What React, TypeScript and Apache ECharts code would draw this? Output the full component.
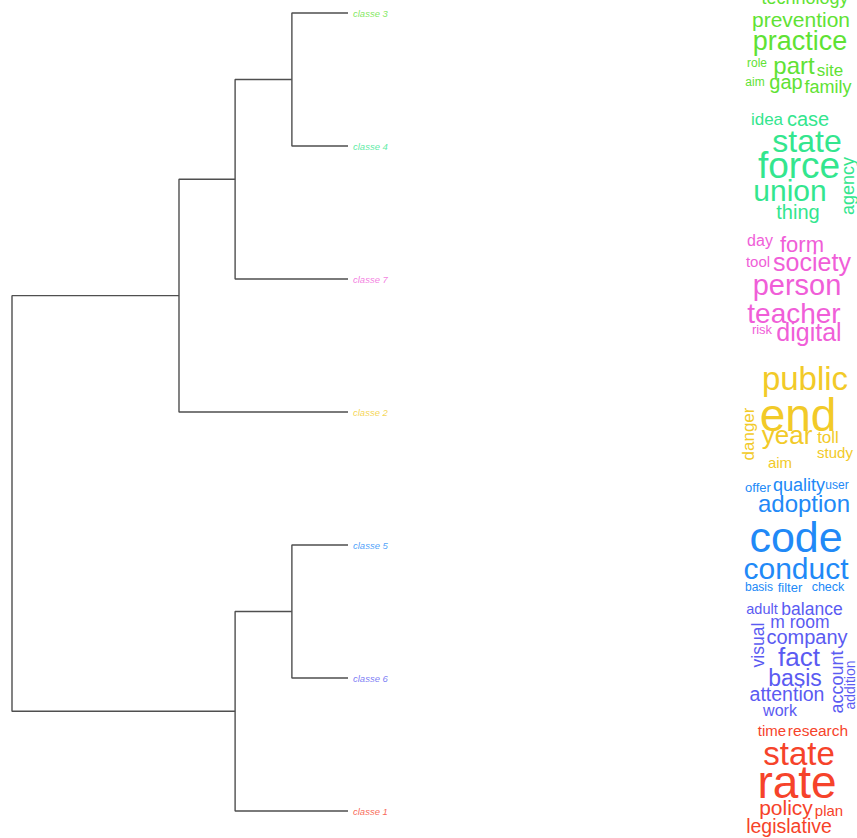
import React, { useEffect, useRef } from 'react';
import * as echarts from 'echarts';

const W = 857;
const H = 838;

// ---- dendrogram data ----
const leaves = ['classe 3', 'classe 4', 'classe 7', 'classe 2', 'classe 5', 'classe 6', 'classe 1'];
const leafColors = ['#5fe234', '#33e68e', '#f05ed8', '#f2ca28', '#2189f7', '#5b5bf2', '#f6432a'];
const mergeA = ['classe 3', 'classe 5', 'm1', 'm2', 'm3', 'm5'];
const mergeB = ['classe 4', 'classe 6', 'classe 7', 'classe 1', 'classe 2', 'm4'];
const mergeHeight = [0.167, 0.167, 0.336, 0.336, 0.503, 1.0];

// ---- word cloud data (word, weight) ----
const words3 = ['technology', 'prevention', 'practice', 'role', 'part', 'site', 'aim', 'gap', 'family'];
const weight3 = [18, 21, 27, 12, 24, 17, 12, 20, 18];
const words4 = ['idea', 'case', 'state', 'force', 'agency', 'union', 'thing'];
const weight4 = [17, 20, 32, 37, 18, 30, 20];
const words7 = ['day', 'form', 'tool', 'society', 'person', 'teacher', 'risk', 'digital'];
const weight7 = [16, 22, 15, 25, 29, 28, 13, 25];
const words2 = ['public', 'end', 'danger', 'year', 'toll', 'study', 'aim'];
const weight2 = [33, 46, 17, 26, 17, 15, 15];
const words5 = ['offer', 'quality', 'user', 'adoption', 'code', 'conduct', 'basis', 'filter', 'check'];
const weight5 = [13, 18, 12, 24, 43, 30, 12, 13, 12.5];
const words6 = ['adult', 'balance', 'm room', 'visual', 'company', 'fact', 'basis', 'attention', 'work', 'account', 'addition'];
const weight6 = [14.5, 17.5, 17.5, 17.5, 20, 26, 23, 19.5, 16, 18, 14];
const words1 = ['time', 'research', 'state', 'rate', 'policy', 'plan', 'legislative'];
const weight1 = [15, 15.5, 33, 46, 21, 15, 19.5];

// ---- word cloud layout (x, y, rotated) ----
const layout3 = [[805, -2, 0], [801, 19, 0], [800, 41, 0], [757, 63, 0], [794, 65, 0], [830, 70, 0], [755, 82, 0], [786, 82, 0], [828, 87, 0]];
const layout4 = [[767, 119, 0], [808, 119, 0], [807, 141, 0], [799, 165, 0], [848, 186, 1], [790, 190, 0], [798, 212, 0]];
const layout7 = [[760, 240, 0], [802, 244, 0], [758, 261, 0], [812, 262, 0], [797, 285, 0], [794, 313, 0], [762, 329, 0], [809, 332, 0]];
const layout2 = [[805, 378, 0], [798, 415, 0], [748, 434, 1], [787, 435, 0], [828, 437, 0], [835, 452, 0], [780, 462, 0]];
const layout5 = [[758, 487, 0], [799, 485, 0], [837, 485, 0], [804, 503, 0], [796, 537, 0], [796, 568, 0], [759, 587, 0], [790, 587, 0], [828, 587, 0]];
const layout6 = [[762, 609, 0], [812, 609, 0], [800, 622, 0], [758, 645, 1], [807, 637, 0], [799, 657, 0], [795, 678, 0], [787, 694, 0], [780, 710, 0], [837, 682, 1], [850, 685, 1]];
const layout1 = [[772, 730, 0], [818, 730, 0], [799, 753, 0], [797, 782, 0], [786, 807, 0], [829, 810, 0], [789, 826, 0]];

const clouds = [
  { cls: 'classe 3', words: words3, weights: weight3, layout: layout3 },
  { cls: 'classe 4', words: words4, weights: weight4, layout: layout4 },
  { cls: 'classe 7', words: words7, weights: weight7, layout: layout7 },
  { cls: 'classe 2', words: words2, weights: weight2, layout: layout2 },
  { cls: 'classe 5', words: words5, weights: weight5, layout: layout5 },
  { cls: 'classe 6', words: words6, weights: weight6, layout: layout6 },
  { cls: 'classe 1', words: words1, weights: weight1, layout: layout1 },
];

const FONT = '"Liberation Sans", Arial, Helvetica, sans-serif';

export default function App() {
  const ref = useRef<HTMLDivElement>(null);
  useEffect(() => {
    if (!ref.current) return;
    const chart = echarts.init(ref.current, null, { renderer: 'svg' });

    // compute dendrogram node positions
    const pos: Record<string, { h: number; y: number }> = {};
    leaves.forEach((l, i) => (pos[l] = { h: 0, y: i }));
    const mergeSeries: any[] = [];
    mergeA.forEach((a, i) => {
      const b = mergeB[i];
      const h = mergeHeight[i];
      const pa = pos[a];
      const pb = pos[b];
      pos['m' + (i + 1)] = { h, y: (pa.y + pb.y) / 2 };
      mergeSeries.push({
        type: 'line',
        xAxisIndex: 0,
        yAxisIndex: 0,
        symbol: 'none',
        clip: false,
        silent: true,
        lineStyle: { color: '#4f4f4f', width: 1.4 },
        data: [
          [pa.h, pa.y],
          [h, pa.y],
          [h, pb.y],
          [pb.h, pb.y],
        ],
      });
    });

    const cloudItems: any[] = [];
    clouds.forEach((c) => {
      const color = leafColors[leaves.indexOf(c.cls)];
      c.words.forEach((w, j) => {
        const [x, y, r] = c.layout[j];
        cloudItems.push({ word: w, size: c.weights[j], x, y, rot: r, color });
      });
    });

    chart.setOption({
      animation: false,
      backgroundColor: '#ffffff',
      grid: [
        { left: 12, right: W - 348, top: 13, bottom: H - 811 },
        { left: 0, right: 0, top: 0, bottom: 0 },
      ],
      xAxis: [
        { type: 'value', gridIndex: 0, inverse: true, min: 0, max: 1, show: false },
        { type: 'value', gridIndex: 1, min: 0, max: W, show: false },
      ],
      yAxis: [
        { type: 'value', gridIndex: 0, inverse: true, min: 0, max: leaves.length - 1, show: false },
        { type: 'value', gridIndex: 1, inverse: true, min: 0, max: H, show: false },
      ],
      series: [
        ...mergeSeries,
        {
          type: 'scatter',
          xAxisIndex: 0,
          yAxisIndex: 0,
          symbolSize: 0,
          clip: false,
          silent: true,
          data: leaves.map((l, i) => ({
            value: [0, i],
            name: l,
            label: { color: leafColors[i] },
          })),
          label: {
            show: true,
            position: 'right',
            distance: 5,
            formatter: '{b}',
            fontSize: 9.5,
            fontStyle: 'italic',
            fontFamily: FONT,
          },
        },
        {
          type: 'custom',
          xAxisIndex: 1,
          yAxisIndex: 1,
          silent: true,
          clip: false,
          data: cloudItems.map((it) => [it.x, it.y]),
          renderItem: (params: any, api: any) => {
            const it = cloudItems[params.dataIndex];
            const p = api.coord([api.value(0), api.value(1)]);
            return {
              type: 'text',
              x: p[0],
              y: p[1],
              rotation: it.rot ? Math.PI / 2 : 0,
              style: {
                text: it.word,
                fontSize: it.size,
                fill: it.color,
                align: 'center',
                verticalAlign: 'middle',
                fontFamily: FONT,
              },
            };
          },
        },
      ],
    });
    return () => chart.dispose();
  }, []);
  return <div ref={ref} style={{ position: 'fixed', left: 0, top: 0, width: W, height: H }} />;
}
